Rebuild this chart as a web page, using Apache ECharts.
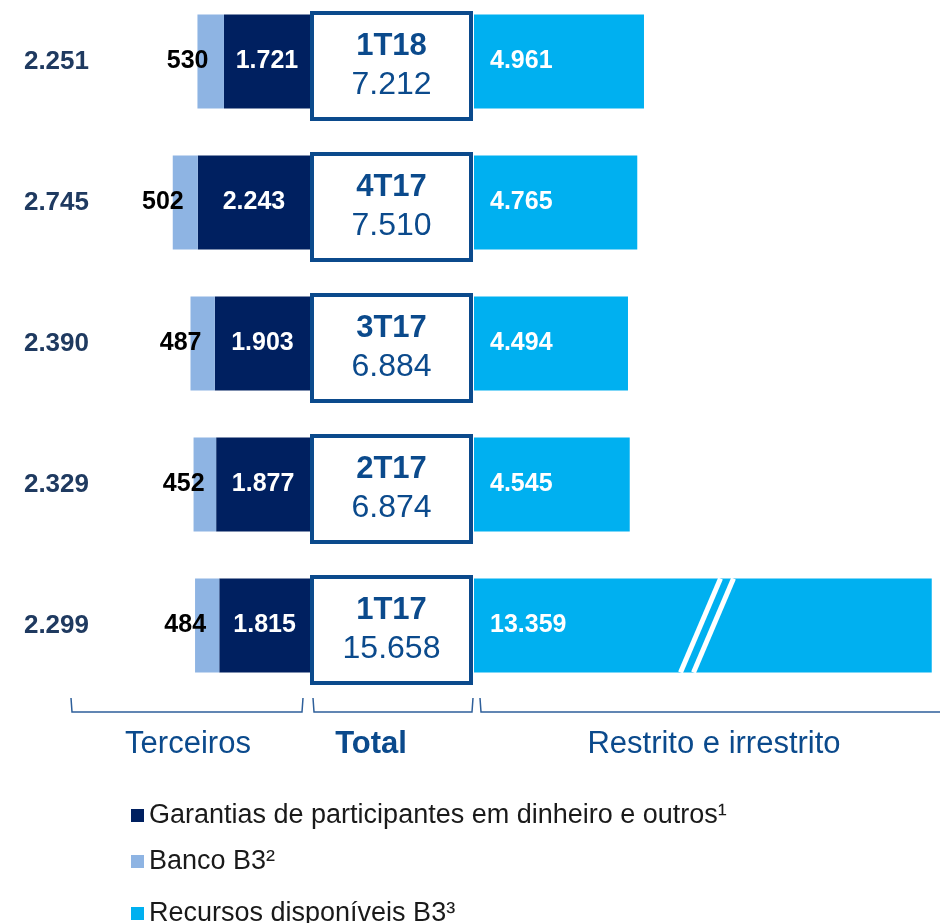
<!DOCTYPE html>
<html>
<head>
<meta charset="utf-8">
<script src="https://cdn.jsdelivr.net/npm/echarts@6/dist/echarts.min.js"></script>
<style>
  html, body { margin: 0; padding: 0; background: #fff; }
  #chart { width: 940px; height: 923px; }
</style>
</head>
<body>
<div id="chart"></div>
<script>
// 数据
var quarters = ['1T18', '4T17', '3T17', '2T17', '1T17'];
var garantias = [1721, 2243, 1903, 1877, 1815]; // Garantias de participantes
var bancoB3 = [530, 502, 487, 452, 484];         // Banco B3
var recursos = [4961, 4765, 4494, 4545, 13359];  // Recursos disponíveis B3
var legendNames = [
  'Garantias de participantes em dinheiro e outros¹',
  'Banco B3²',
  'Recursos disponíveis B3³'
];

var FONT = '"Liberation Sans", Arial, sans-serif';
var BLUE_TXT = '#0b4a8c';

// 千位分隔 2.251
function fmt(v) {
  return String(v).replace(/\B(?=(\d{3})+(?!\d))/g, '.');
}
var terceiros = quarters.map(function (q, i) { return bancoB3[i] + garantias[i]; });
var totals = quarters.map(function (q, i) { return terceiros[i] + recursos[i]; });

var chart = echarts.init(document.getElementById('chart'));

var catAxis = function (grid, showLabel) {
  return {
    type: 'category',
    gridIndex: grid,
    data: quarters,
    inverse: true,
    axisLine: { show: false, onZero: false },
    axisTick: { show: false },
    axisLabel: showLabel ? {
      show: true,
      margin: 11,
      fontFamily: FONT,
      fontSize: 26,
      fontWeight: 'bold',
      color: '#1f3a60',
      formatter: function (v, idx) { return fmt(terceiros[idx]); }
    } : { show: false }
  };
};

// 每个图例单独一行
var legendRow = function (name, top) {
  return {
    orient: 'vertical',
    left: 126,
    top: top,
    itemWidth: 13,
    itemHeight: 13,
    icon: 'rect',
    selectedMode: false,
    textStyle: { fontFamily: FONT, fontSize: 27, color: '#1a1a1a' },
    data: [name]
  };
};

var option = {
  animation: false,
  textStyle: { fontFamily: FONT },
  grid: [
    { left: 100, width: 210, top: -9, height: 705, outerBoundsMode: 'none' },    // Terceiros
    { left: 310, width: 163, top: -4.5, height: 705, outerBoundsMode: 'none' },  // Total
    { left: 474, width: 466, top: -9, height: 705, outerBoundsMode: 'none' }     // Restrito e irrestrito
  ],
  xAxis: [
    { type: 'value', gridIndex: 0, inverse: true, min: 0, max: 4200, show: false },
    { type: 'value', gridIndex: 1, min: 0, max: 1, show: false },
    { type: 'value', gridIndex: 2, min: 0, max: 13600, show: false }
  ],
  yAxis: [catAxis(0, true), catAxis(1, false), catAxis(2, false)],
  legend: [
    legendRow(legendNames[0], 797),
    legendRow(legendNames[1], 843),
    legendRow(legendNames[2], 895)
  ],
  series: [
    {
      name: legendNames[0],
      type: 'bar',
      xAxisIndex: 0,
      yAxisIndex: 0,
      stack: 'terceiros',
      barWidth: 94,
      data: garantias,
      itemStyle: { color: '#002060' },
      label: {
        show: true,
        position: 'inside',
        color: '#fff',
        fontSize: 25,
        fontWeight: 'bold',
        formatter: function (p) { return fmt(p.value); }
      }
    },
    {
      name: legendNames[1],
      type: 'bar',
      xAxisIndex: 0,
      yAxisIndex: 0,
      stack: 'terceiros',
      barWidth: 94,
      data: bancoB3,
      itemStyle: { color: '#8eb4e3' },
      label: {
        show: true,
        position: 'left',
        distance: 5,
        offset: [16, 0],
        color: '#000',
        fontSize: 25,
        fontWeight: 'bold',
        formatter: function (p) { return fmt(p.value); }
      }
    },
    {
      name: legendNames[2],
      type: 'bar',
      xAxisIndex: 2,
      yAxisIndex: 2,
      barWidth: 94,
      data: recursos,
      itemStyle: { color: '#00b0f0' },
      label: {
        show: true,
        position: 'insideLeft',
        distance: 16,
        color: '#fff',
        fontSize: 25,
        fontWeight: 'bold',
        formatter: function (p) { return fmt(p.value); }
      }
    },
    {
      // 中间的方框：季度 + 合计
      name: 'total',
      type: 'bar',
      xAxisIndex: 1,
      yAxisIndex: 1,
      barWidth: 110,
      z: 5,
      silent: true,
      data: quarters.map(function () { return 1; }),
      itemStyle: { color: '#fff', borderColor: BLUE_TXT, borderWidth: 4 },
      label: {
        show: true,
        position: 'inside',
        formatter: function (p) {
          return '{q|' + quarters[p.dataIndex] + '}\n{t|' + fmt(totals[p.dataIndex]) + '}';
        },
        rich: {
          q: { fontFamily: FONT, fontSize: 31, fontWeight: 'bold', color: BLUE_TXT, lineHeight: 39 },
          t: { fontFamily: FONT, fontSize: 32, color: BLUE_TXT, lineHeight: 39 }
        }
      }
    }
  ]
};
chart.setOption(option);

// 底部括号和标题
var bracket = function (id, x1, x2) {
  return {
    id: id,
    type: 'polyline',
    shape: { points: [[x1, 698], [x1 + 1, 712], [x2 - 1, 712], [x2, 698]] },
    style: { stroke: '#2e5f9a', lineWidth: 1.5, fill: null }
  };
};
var caption = function (id, x, text, bold) {
  return {
    id: id,
    type: 'text',
    x: x,
    y: 744,
    style: {
      text: text,
      fontFamily: FONT,
      fontSize: 31,
      fontWeight: bold ? 'bold' : 'normal',
      fill: BLUE_TXT,
      textAlign: 'center',
      textVerticalAlign: 'middle'
    }
  };
};

// 1T17 截断标记
var breakAt = chart.convertToPixel({ gridIndex: 2 }, [6800, quarters[4]]);
var half = 47;
var breakLine = function (id, off) {
  return {
    id: id,
    type: 'line',
    z: 10,
    shape: { x1: breakAt[0] - 20 + off, y1: breakAt[1] + half, x2: breakAt[0] + 20 + off, y2: breakAt[1] - half },
    style: { stroke: '#fff', lineWidth: 5 }
  };
};

chart.setOption({
  graphic: [
    bracket('b1', 71, 303),
    bracket('b2', 313, 473),
    bracket('b3', 480, 945),
    caption('c1', 188, 'Terceiros', false),
    caption('c2', 371, 'Total', true),
    caption('c3', 714, 'Restrito e irrestrito', false),
    breakLine('k1', -6.5),
    breakLine('k2', 6.5)
  ]
});
</script>
</body>
</html>
